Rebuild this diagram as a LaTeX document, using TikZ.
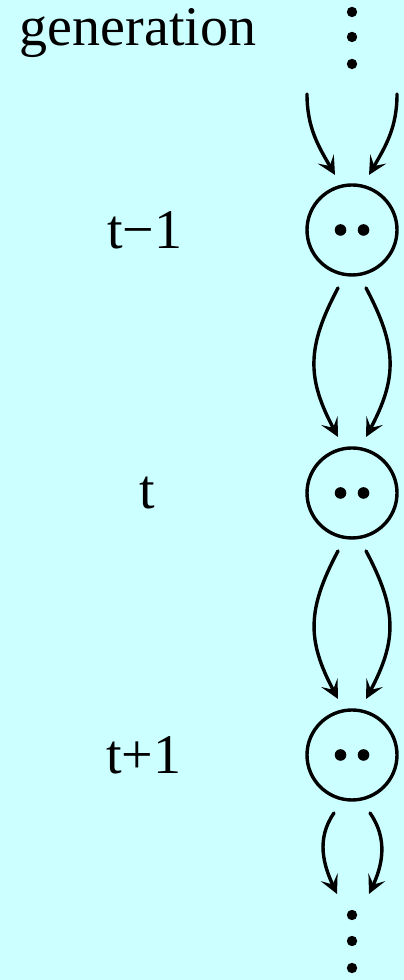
\documentclass[tikz,border=0pt]{standalone}
\usepackage{fontspec}
\setmainfont{Liberation Serif}
\usepackage{xcolor}
\usepackage{tikz}
\usetikzlibrary{arrows.meta,calc}
\definecolor{paleaqua}{HTML}{CCFFFF}
\definecolor{ink}{HTML}{000000}
\tikzset{
    every picture/.style={line cap=round,line join=round},
    gennode/.style={draw=ink,circle,line width=0.85pt,
      minimum size=22.5pt,inner sep=0pt,outer sep=0pt},
    genlabel/.style={text=ink,font=\fontsize{14}{16}\selectfont,inner sep=0pt},
    descent/.style={-{Stealth[length=4.6pt,width=4.6pt,inset=2pt]},draw=ink,
      line width=0.85pt}
}
\begin{document}
\begin{tikzpicture}[x=0.25pt,y=0.25pt]
  \fill[paleaqua] (0,0) rectangle (404,980);
  \useasboundingbox (0,0) rectangle (404,980);
  % generations
  \node[genlabel] (head) at (138,947) {generation};
  \node[gennode] (g1) at (352,750) {};
  \node[gennode] (g2) at (352,487) {};
  \node[gennode] (g3) at (352,225) {};
  \node[genlabel] (l1) at (145,750) {t−1};
  \node[genlabel] (l2) at (147,487) {t};
  \node[genlabel] (l3) at (144,225) {t+1};
  % the two dots of each pair
  \foreach \g in {g1,g2,g3}{
    \fill[ink] ($(\g)+(-11.5,0)$) circle[radius=1.45pt];
    \fill[ink] ($(\g)+(11.5,0)$) circle[radius=1.45pt];
  }
  % ellipses above and below
  \foreach \y in {968,943,916,65,39,12}
    \fill[ink] (352,\y) circle[radius=1.3pt];
  \coordinate (topL) at (307,886);
  \coordinate (topR) at (397,886);
  \coordinate (botL) at (337,86);
  \coordinate (botR) at (369,86);
  % arrows
  \draw[descent] (topL) to[out=-90,in=120] ($(g1)+(-17,55)$);
  \draw[descent] (topR) to[out=-90,in=60] ($(g1)+(17,55)$);
  \draw[descent] ($(g1)+(-14,-58)$) to[out=-118,in=118,looseness=1.15] ($(g2)+(-14,56)$);
  \draw[descent] ($(g1)+(14,-58)$) to[out=-62,in=62,looseness=1.15] ($(g2)+(14,56)$);
  \draw[descent] ($(g2)+(-14,-58)$) to[out=-118,in=118,looseness=1.15] ($(g3)+(-14,56)$);
  \draw[descent] ($(g2)+(14,-58)$) to[out=-62,in=62,looseness=1.15] ($(g3)+(14,56)$);
  \draw[descent] ($(g3)+(-18,-58)$) to[out=-125,in=115] (botL);
  \draw[descent] ($(g3)+(18,-58)$) to[out=-55,in=65] (botR);
\end{tikzpicture}
\end{document}
